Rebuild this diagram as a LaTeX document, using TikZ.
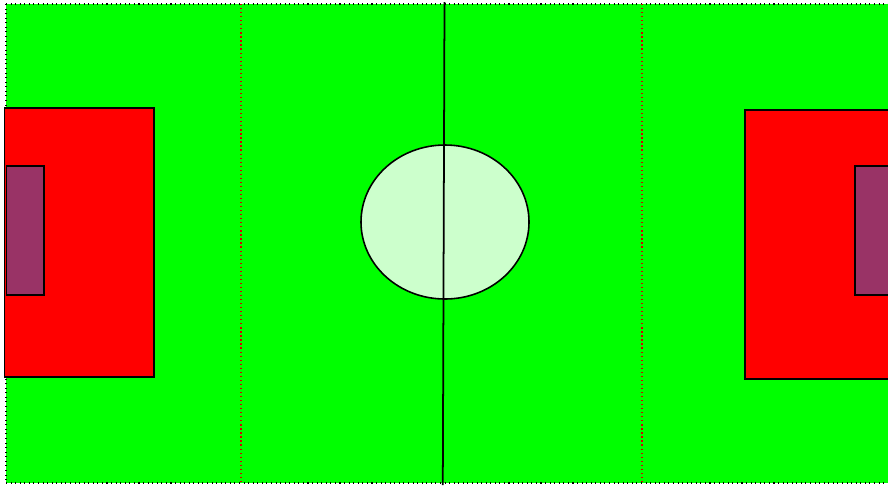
\documentclass[tikz,border=0pt]{standalone}
\usepackage{tikz}
\definecolor{pitch}{RGB}{0,255,0}
\definecolor{circlefill}{RGB}{204,255,204}
\definecolor{boxred}{RGB}{255,0,0}
\definecolor{goalpurple}{RGB}{153,51,102}
\tikzset{
  fieldline/.style={draw=black, dotted, line width=0.6pt},
  thirdline/.style={draw=red!85!black, dash pattern=on 0.7pt off 1.6pt, line width=0.8pt},
  penbox/.style={draw=black, fill=boxred, line width=0.9pt},
  goalbox/.style={draw=black, fill=goalpurple, line width=0.9pt},
  midcircle/.style={draw=black, fill=circlefill, line width=0.9pt},
}

\begin{document}
\begin{tikzpicture}[x=0.02cm,y=-0.02cm]
  \useasboundingbox (0,0) rectangle (888,485);
  \clip (0,0) rectangle (888,485);
  % pitch
  \fill[pitch] (6,4) rectangle (892,483);
  \draw[fieldline] (6,4) -- (892,4);
  \draw[fieldline] (6,483) -- (892,483);
  \draw[fieldline] (6,4) -- (6,483);
  % dotted thirds
  \draw[thirdline] (241,4) -- (241,483);
  \draw[thirdline] (642,4) -- (642,483);
  % penalty areas
  \draw[penbox] (4.5,108) rectangle (154,377);
  \draw[penbox] (745,110) rectangle (892,379);
  % goal areas
  \draw[goalbox] (6.5,166) rectangle (44,295);
  \draw[goalbox] (855,166) rectangle (892,295);
  % centre circle and halfway line
  \draw[midcircle] (445,222) ellipse [x radius=84, y radius=77];
  \draw[line width=1pt] (444.5,2) -- (442.8,485);
\end{tikzpicture}
\end{document}
